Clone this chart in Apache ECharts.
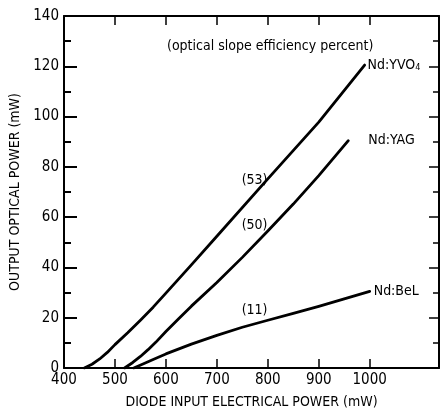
<!DOCTYPE html>
<html>
<head>
<meta charset="utf-8">
<script src="https://cdn.jsdelivr.net/npm/echarts@6/dist/echarts.min.js"></script>
<style>
html,body{margin:0;padding:0;background:#fff;}
#c{width:441px;height:414px;}
</style>
</head>
<body>
<div id="c"></div>
<script>
var FONT = "'Liberation Sans Narrow','DejaVu Sans Condensed','Arial Narrow',sans-serif";

var xTickLabels = [400, 500, 600, 700, 800, 900, 1000];
var xTicks = [500, 600, 700, 800, 900, 1000];
var yTickLabels = [0, 20, 40, 60, 80, 100, 120, 140];

var ndYVO4 = [[440,0],[455,1.5],[470,3.6],[485,6.2],[500,9.3],[525,14],[550,19],[575,24.2],[600,29.8],[650,41],[700,52.4],[800,75.2],[900,97.8],[990,120.5]];
var ndYAG = [[519,0],[535,2.2],[550,4.6],[565,7.3],[580,10.2],[600,14.5],[625,19.6],[650,24.6],[700,34],[750,44],[800,54.5],[850,65.2],[900,76.5],[958,90.4]];
var ndBeL = [[537,0],[555,1.6],[575,3.4],[600,5.6],[650,9.5],[700,13],[750,16.2],[800,19],[850,21.7],[900,24.5],[950,27.5],[1000,30.5]];

var effNames = ['(53)', '(50)', '(11)'];
var effCoords = [[774, 74.5], [774, 56.8], [774, 22.9]];

var chart = echarts.init(document.getElementById('c'), null, {renderer:'canvas'});

var lineStyle = {color:'#000', width:2.8, join:'round', cap:'round'};
function fmt(v){ return String(v); }

chart.setOption({
  animation:false,
  backgroundColor:'#fff',
  title:{
    text:'(optical slope efficiency percent)',
    left:162, top:34,
    textStyle:{color:'#000', fontFamily:FONT, fontSize:14, fontWeight:'normal'}
  },
  grid:{left:64, right:2, top:16, bottom:43},
  xAxis:[{
    type:'value', min:400, max:1136,
    position:'bottom',
    name:'DIODE INPUT ELECTRICAL POWER (mW)',
    nameLocation:'middle', nameGap:27,
    nameTextStyle:{color:'#000', fontFamily:FONT, fontSize:14},
    axisLine:{show:true, onZero:false, lineStyle:{color:'#000', width:2}},
    axisTick:{show:true, inside:true, length:9, customValues:xTicks, lineStyle:{color:'#000', width:1.5}},
    axisLabel:{show:true, customValues:xTickLabels, formatter:fmt, margin:5, color:'#000', fontFamily:FONT, fontSize:15},
    splitLine:{show:false}
  },{
    type:'value', min:400, max:1136,
    position:'top',
    axisLine:{show:true, onZero:false, lineStyle:{color:'#000', width:2}},
    axisTick:{show:true, inside:true, length:9, customValues:xTicks, lineStyle:{color:'#000', width:1.5}},
    axisLabel:{show:false},
    splitLine:{show:false}
  }],
  yAxis:[{
    type:'value', min:0, max:140, interval:20,
    position:'left',
    name:'OUTPUT OPTICAL POWER (mW)',
    nameLocation:'middle', nameGap:42,
    nameTextStyle:{color:'#000', fontFamily:FONT, fontSize:14},
    axisLine:{show:true, onZero:false, lineStyle:{color:'#000', width:2}},
    axisTick:{show:true, inside:true, length:13, lineStyle:{color:'#000', width:2}},
    minorTick:{show:true, splitNumber:2, length:7, lineStyle:{color:'#000', width:2}},
    axisLabel:{show:true, customValues:yTickLabels, formatter:fmt, margin:5, color:'#000', fontFamily:FONT, fontSize:15},
    splitLine:{show:false}
  },{
    type:'value', min:0, max:140, interval:20,
    position:'right',
    axisLine:{show:true, onZero:false, lineStyle:{color:'#000', width:2}},
    axisTick:{show:true, inside:true, length:10, lineStyle:{color:'#000', width:1.5}},
    minorTick:{show:true, splitNumber:2, length:6, lineStyle:{color:'#000', width:1.5}},
    axisLabel:{show:false},
    splitLine:{show:false}
  }],
  series:[{
    name:'Nd:YVO4', type:'line', data:ndYVO4, smooth:false, symbol:'none',
    lineStyle:lineStyle,
    endLabel:{show:true, distance:3, formatter:'Nd:YVO{s|4}', color:'#000', fontFamily:FONT, fontSize:14,
      rich:{s:{fontSize:9, fontFamily:FONT, color:'#000', verticalAlign:'bottom', padding:[6,0,0,0]}}}
  },{
    name:'Nd:YAG', type:'line', data:ndYAG, smooth:false, symbol:'none',
    lineStyle:lineStyle,
    endLabel:{show:true, distance:20, formatter:'Nd:YAG', color:'#000', fontFamily:FONT, fontSize:14}
  },{
    name:'Nd:BeL', type:'line', data:ndBeL, smooth:false, symbol:'none',
    lineStyle:lineStyle,
    endLabel:{show:true, distance:4, formatter:'Nd:BeL', color:'#000', fontFamily:FONT, fontSize:14}
  },{
    name:'efficiency', type:'scatter', symbolSize:1, silent:true,
    itemStyle:{color:'#fff', opacity:1},
    data:effCoords.map(function(c, i){ return {value:c, name:effNames[i]}; }),
    label:{show:true, position:'inside', formatter:function(p){ return p.name; }, color:'#000',
      textBorderWidth:0, textBorderColor:'transparent', opacity:1, fontFamily:FONT, fontSize:14}
  }]
});
</script>
</body>
</html>
